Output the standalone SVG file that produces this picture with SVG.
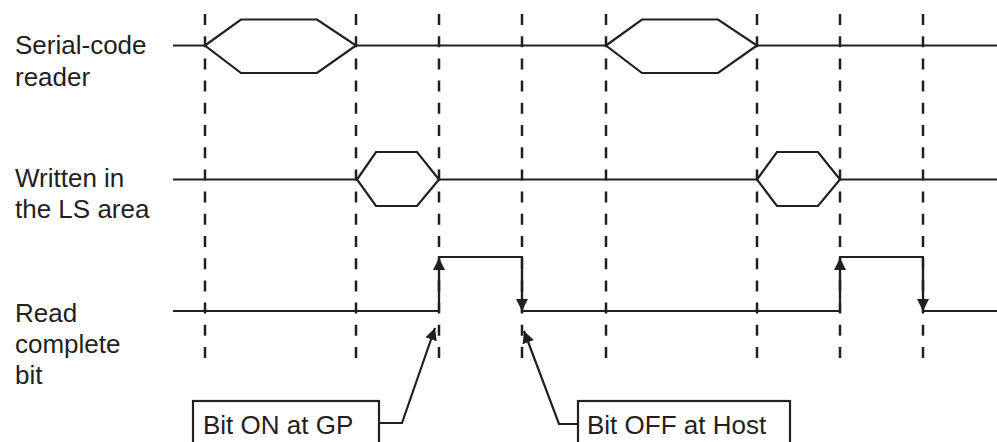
<svg xmlns="http://www.w3.org/2000/svg" width="997" height="442" viewBox="0 0 997 442">
<style>
.lbl{font-family:"Liberation Sans",Arial,sans-serif;font-size:26px;fill:#231f20}
.sig{fill:none;stroke:#231f20;stroke-width:2.2;stroke-linejoin:miter}
.dash{stroke:#231f20;stroke-width:2.5;stroke-dasharray:11 11.2}
.box{fill:#fff;stroke:#231f20;stroke-width:2.2}
</style>
<defs>
<marker id="ah" viewBox="0 0 12 12" refX="12" refY="6" markerWidth="12" markerHeight="12" markerUnits="userSpaceOnUse" orient="auto">
<path d="M0,0 L12,6 L0,12 Z" fill="#231f20"/>
</marker>
</defs>
<rect width="997" height="442" fill="#fff"/>
<g id="gridlines">
<line class="dash" x1="205" y1="14" x2="205" y2="358"/>
<line class="dash" x1="356" y1="14" x2="356" y2="358"/>
<line class="dash" x1="439" y1="14" x2="439" y2="358"/>
<line class="dash" x1="522" y1="14" x2="522" y2="358"/>
<line class="dash" x1="606" y1="14" x2="606" y2="358"/>
<line class="dash" x1="757" y1="14" x2="757" y2="358"/>
<line class="dash" x1="840" y1="14" x2="840" y2="358"/>
<line class="dash" x1="923" y1="14" x2="923" y2="358"/>
</g>
<g id="labels">
<text class="lbl" x="15" y="54">Serial-code</text>
<text class="lbl" x="15" y="86">reader</text>
<text class="lbl" x="15" y="187">Written in</text>
<text class="lbl" x="15" y="218">the LS area</text>
<text class="lbl" x="15" y="322">Read</text>
<text class="lbl" x="15" y="353">complete</text>
<text class="lbl" x="15" y="384">bit</text>
</g>
<g id="row-serial">
<path class="sig" d="M173,45.5 H205 M356,45.5 H606 M757,45.5 H997"/>
<path class="sig" d="M205,45.5 L241,19.5 H317 L356,45.5 L317,73 H241 Z"/>
<path class="sig" d="M606,45.5 L642,19.5 H718 L757,45.5 L718,73 H642 Z"/>
</g>
<g id="row-written">
<path class="sig" d="M173,179.5 H357 M439,179.5 H757 M840,179.5 H997"/>
<path class="sig" d="M357,179.5 L376,152 H417 L439,179.5 L417,206 H376 Z"/>
<path class="sig" d="M757,179.5 L777,152 H818 L840,179.5 L818,206 H777 Z"/>
</g>
<g id="row-read">
<path class="sig" d="M173,311 H439 V257 H522 V311 H840 V257 H923 V311 H997"/>
</g>
<g id="connectors">
<line class="sig" x1="439" y1="300" x2="439" y2="258" marker-end="url(#ah)"/>
<line class="sig" x1="522" y1="270" x2="522" y2="311" marker-end="url(#ah)"/>
<line class="sig" x1="840" y1="300" x2="840" y2="258" marker-end="url(#ah)"/>
<line class="sig" x1="923" y1="270" x2="923" y2="311" marker-end="url(#ah)"/>
<path class="sig" d="M379,423 H402 L435,328" marker-end="url(#ah)"/>
<path class="sig" d="M578,424 H559 L524,331" marker-end="url(#ah)"/>
</g>
<g id="box-on">
<rect class="box" x="193" y="401" width="186" height="50"/>
<text class="lbl" x="203" y="434">Bit ON at GP</text>
</g>
<g id="box-off">
<rect class="box" x="578" y="401" width="212" height="50"/>
<text class="lbl" x="587" y="434">Bit OFF at Host</text>
</g>
</svg>
